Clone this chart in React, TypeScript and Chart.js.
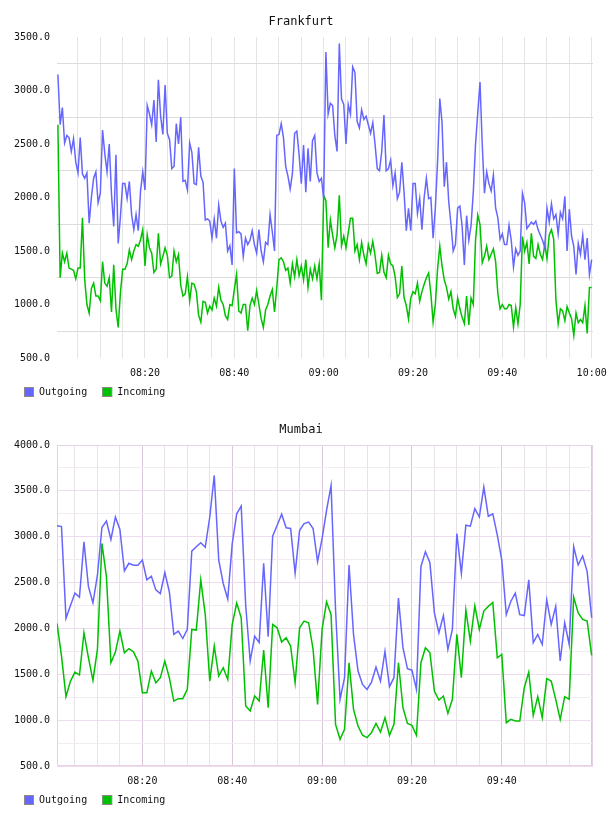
import React, { useEffect, useRef } from "react";
import { Chart, registerables } from "chart.js";

Chart.register(...registerables);

const MONO = '"DejaVu Sans Mono", "Liberation Mono", monospace';
const OUT_COLOR = "rgb(102,102,255)";
const IN_COLOR = "rgb(0,192,0)";
const seriesNames = ["Outgoing", "Incoming"];

// Frankfurt: one sample every 30 s
const frankfurtStart = "08:00:30";
const frankfurtStepSeconds = 30;
const frankfurtOutgoing = [
  3150, 2680, 2840, 2510, 2580, 2560, 2430, 2550, 2330, 2230,
  2560, 2220, 2180, 2230, 1760, 2000, 2180, 2240, 1950, 2040,
  2630, 2410, 2240, 2500, 2030, 1730, 2400, 1570, 1820, 2130,
  2130, 1990, 2150, 1840, 1700, 1840, 1690, 2060, 2240, 2070,
  2860, 2780, 2680, 2910, 2520, 3100, 2760, 2590, 3050, 2600,
  2540, 2270, 2290, 2690, 2500, 2750, 2150, 2160, 2070, 2510,
  2420, 2130, 2120, 2470, 2200, 2140, 1790, 1800, 1780, 1620,
  1800, 1620, 1930, 1780, 1720, 1760, 1500, 1550, 1370, 2270,
  1670, 1680, 1660, 1450, 1620, 1560, 1600, 1690, 1560, 1480,
  1700, 1500, 1400, 1580, 1560, 1840, 1680, 1500, 2580, 2590,
  2690, 2560, 2290, 2200, 2080, 2220, 2600, 2620, 2400, 2130,
  2490, 2050, 2460, 2150, 2530, 2580, 2230, 2150, 2180, 1990,
  3360, 2780, 2880, 2860, 2580, 2430, 3440, 2920, 2870, 2500,
  2870, 2780, 3220, 3170, 2710, 2650, 2820, 2730, 2760, 2680,
  2600, 2700, 2500, 2270, 2250, 2430, 2770, 2250, 2270, 2350,
  2110, 2230, 1990, 2050, 2330, 2050, 1690, 1900, 1690, 2130,
  2130, 1850, 1990, 1700, 2000, 2180, 1990, 2000, 1620, 1900,
  2330, 2925, 2700, 2100, 2330, 1960, 1750, 1500, 1560, 1900,
  1920, 1730, 1370, 1830, 1600, 1740, 2050, 2500, 2790, 3080,
  2500, 2040, 2240, 2130, 2060, 2210, 1900, 1810, 1610, 1660,
  1560, 1560, 1740, 1600, 1350, 1520, 1460, 1500, 2040, 1950,
  1710, 1740, 1770, 1750, 1780, 1700, 1650, 1600, 1530, 1900,
  1770, 1940, 1800, 1840, 1660, 1860, 1800, 2010, 1500, 1890,
  1640, 1540, 1280, 1570, 1470, 1650, 1420, 1620, 1280, 1420,
];
const frankfurtIncoming = [
  2680, 1250, 1480, 1400, 1480, 1340, 1330, 1320, 1240, 1340,
  1340, 1810, 1235, 1000, 920, 1150, 1200, 1080, 1080, 1035,
  1400, 1200, 1170, 1250, 930, 1370, 957, 785, 1110, 1330,
  1330, 1380, 1510, 1420, 1500, 1560, 1545, 1605, 1700, 1360,
  1650, 1530, 1480, 1300, 1330, 1665, 1380, 1450, 1530, 1460,
  1250, 1265, 1500, 1400, 1465, 1180, 1080, 1100, 1260, 1035,
  1200, 1190, 1120, 900, 835, 1030, 1020, 920, 985, 950,
  1060, 985, 1160, 1040, 1000, 895, 860, 1000, 990, 1140,
  1280, 940, 920, 1000, 1000, 755, 990, 1060, 1000, 1130,
  1000, 870, 785, 950, 1000, 1080, 1140, 930, 1160, 1420,
  1435, 1400, 1320, 1340, 1200, 1380, 1260, 1420, 1270, 1360,
  1230, 1420, 1160, 1330, 1240, 1360, 1240, 1380, 1040, 2020,
  1970, 1530, 1790, 1650, 1530, 1650, 2020, 1550, 1640, 1530,
  1670, 1805, 1805, 1500, 1560, 1420, 1580, 1460, 1380, 1560,
  1480, 1590, 1460, 1290, 1300, 1460, 1300, 1250, 1460, 1380,
  1360, 1260, 1065, 1100, 1360, 1065, 990, 865, 1060, 1120,
  1100, 1200, 1030, 1120, 1190, 1250, 1295, 1100, 835, 1000,
  1330, 1545, 1360, 1230, 1160, 1050, 1120, 960, 890, 1060,
  960, 880, 820, 1080, 810, 1060, 1000, 1600, 1835, 1750,
  1390, 1450, 1545, 1420, 1470, 1520, 1400, 1100, 960, 1000,
  960, 960, 1000, 990, 790, 970, 820, 1000, 1635, 1500,
  1580, 1380, 1665, 1450, 1430, 1560, 1470, 1420, 1560, 1430,
  1650, 1700, 1610, 1040, 820, 960, 940, 850, 980, 920,
  870, 710, 920, 830, 860, 830, 990, 730, 1160, 1160,
];

// Mumbai: one sample per minute
const mumbaiStart = "08:01:00";
const mumbaiStepSeconds = 60;
const mumbaiOutgoing = [
  3120, 3110, 2110, 2250, 2385, 2340, 2945, 2455, 2280, 2580,
  3100, 3170, 2970, 3215, 3080, 2627, 2710, 2690, 2690, 2745,
  2530, 2570, 2420, 2380, 2610, 2400, 1935, 1970, 1890, 1990,
  2843, 2890, 2935, 2885, 3215, 3668, 2745, 2490, 2320, 2925,
  3250, 3335, 2250, 1645, 1915, 1845, 2710, 1910, 3006, 3125,
  3245, 3097, 3090, 2600, 3070, 3143, 3160, 3090, 2728, 2980,
  3288, 3559, 2200, 1227, 1463, 2692, 1935, 1535, 1390, 1335,
  1415, 1580, 1425, 1750, 1365, 1463, 2330, 1790, 1560, 1545,
  1335, 2674, 2836, 2717, 2170, 1953, 2140, 1770, 1990, 3035,
  2600, 3125, 3115, 3306, 3215, 3541, 3223, 3250, 3017, 2745,
  2150, 2294, 2385, 2150, 2140, 2529, 1845, 1935, 1825, 2312,
  2044, 2240, 1645, 2062, 1825, 2890, 2692, 2790, 2620, 2116,
];
const mumbaiIncoming = [
  2054, 1700, 1256, 1426, 1524, 1492, 1953, 1680, 1434, 1771,
  2927, 2565, 1626, 1742, 1971, 1735, 1778, 1746, 1644, 1299,
  1299, 1535, 1408, 1463, 1644, 1463, 1208, 1234, 1234, 1336,
  1989, 1982, 2529, 2150, 1426, 1808, 1481, 1572, 1444, 2044,
  2276, 2116, 1154, 1100, 1263, 1208, 1764, 1136, 2044, 2007,
  1851, 1898, 1808, 1408, 2007, 2080, 2062, 1771, 1172, 1989,
  2290, 2150, 954, 791, 900, 1626, 1118, 936, 835, 809,
  864, 965, 871, 1027, 835, 954, 1626, 1136, 965, 943,
  835, 1626, 1790, 1735, 1317, 1219, 1263, 1074, 1227, 1935,
  1463, 2200, 1862, 2247, 1989, 2190, 2240, 2283, 1680, 1717,
  972, 1009, 990, 990, 1354, 1524, 1052, 1256, 1027, 1452,
  1426, 1227, 1009, 1256, 1227, 2341, 2170, 2098, 2080, 1706,
];

// Axis windows and labelled ticks
const frankfurtXRange = ["08:00:18", "10:00:18"];
const mumbaiXRange = ["08:01:00", "10:00:18"];
const frankfurtXLabels = ["08:20", "08:40", "09:00", "09:20", "09:40", "10:00"];
const mumbaiXLabels = ["08:20", "08:40", "09:00", "09:20", "09:40"];
const frankfurtYLabels = [500, 1000, 1500, 2000, 2500, 3000, 3500];
const mumbaiYLabels = [500, 1000, 1500, 2000, 2500, 3000, 3500, 4000];

const toMinutes = (t: string) => {
  const [h, m, s] = t.split(":").map(Number);
  return h * 60 + m + (s || 0) / 60;
};
const fmtClock = (v: number) => {
  const h = Math.floor(v / 60);
  const m = Math.round(v - h * 60);
  return `${String(h).padStart(2, "0")}:${String(m).padStart(2, "0")}`;
};

// Thin frame around the plotting area (used by the pink theme)
const frameBorder = {
  id: "frameBorder",
  beforeDatasetsDraw(chart: any, _args: any, opts: any) {
    if (!opts || !opts.color) return;
    const { ctx, chartArea: a } = chart;
    ctx.save();
    ctx.strokeStyle = opts.color;
    ctx.lineWidth = 1;
    const l = Math.round(a.left) + 0.5;
    const t = Math.round(a.top) + 0.5;
    const r = Math.round(a.right) - 0.5;
    const b = Math.round(a.bottom) - 0.5;
    ctx.strokeRect(l, t, r - l, b - t);
    ctx.restore();
  },
};

// Left-aligned legend row: grey-edged colour swatch followed by the series name
const swatchLegend = {
  id: "swatchLegend",
  afterDraw(chart: any, _args: any, opts: any) {
    if (!opts || !opts.items) return;
    const { ctx } = chart;
    ctx.save();
    ctx.font = `10px ${MONO}`;
    ctx.textBaseline = "middle";
    ctx.textAlign = "left";
    let x = opts.left;
    const cy = chart.height - opts.fromBottom;
    const top = Math.round(cy - 5);
    for (const it of opts.items) {
      ctx.fillStyle = it.color;
      ctx.fillRect(x, top, 10, 10);
      ctx.strokeStyle = "#8a8a8a";
      ctx.lineWidth = 1;
      ctx.strokeRect(x + 0.5, top + 0.5, 9, 9);
      ctx.fillStyle = "#111";
      ctx.fillText(it.text, x + 15, top + 5.5);
      x += 15 + ctx.measureText(it.text).width + 15;
    }
    ctx.restore();
  },
};

type Theme = {
  xMinor: string;
  xMajor: string;
  yMinor: string;
  yMajor: string;
  frame: string | null;
};

const grayTheme: Theme = {
  xMinor: "#e4e4e4",
  xMajor: "#e4e4e4",
  yMinor: "#dcdcdc",
  yMajor: "rgba(0,0,0,0)",
  frame: null,
};
const pinkTheme: Theme = {
  xMinor: "#e8e2e8",
  xMajor: "#dcc6dc",
  yMinor: "#f2ecf2",
  yMajor: "#eedcee",
  frame: "#e6d2e6",
};

type PanelProps = {
  title: string;
  start: string;
  stepSeconds: number;
  outgoing: number[];
  incoming: number[];
  xRange: string[];
  xLabels: string[];
  yLabels: number[];
  theme: Theme;
};

function Panel(props: PanelProps) {
  const ref = useRef<HTMLCanvasElement | null>(null);

  useEffect(() => {
    if (!ref.current) return;
    const { title, start, stepSeconds, outgoing, incoming, xRange, xLabels, yLabels, theme } = props;
    const t0 = toMinutes(start);
    const step = stepSeconds / 60;
    const pts = (arr: number[]) => arr.map((v, i) => ({ x: t0 + i * step, y: v }));
    const xMin = toMinutes(xRange[0]);
    const xMax = toMinutes(xRange[1]);
    const yMin = Math.min(...yLabels);
    const yMax = Math.max(...yLabels);
    const labelSet = new Set(xLabels);
    const colors = [OUT_COLOR, IN_COLOR];

    const chart = new Chart(ref.current, {
      type: "line",
      data: {
        datasets: [
          { label: seriesNames[0], data: pts(outgoing), borderColor: OUT_COLOR, backgroundColor: OUT_COLOR },
          { label: seriesNames[1], data: pts(incoming), borderColor: IN_COLOR, backgroundColor: IN_COLOR },
        ],
      },
      options: {
        responsive: false,
        animation: false,
        devicePixelRatio: 1,
        layout: { padding: { left: 9, right: 15, top: 0, bottom: 28 } },
        elements: {
          point: { radius: 0, hoverRadius: 0 },
          line: { borderWidth: 1.5, tension: 0, fill: false },
        },
        plugins: {
          tooltip: { enabled: false },
          legend: { display: false },
          title: {
            display: true,
            text: title,
            color: "#111",
            font: { family: MONO, size: 12, weight: "normal", lineHeight: 1.2 },
            padding: { top: 15, bottom: 7.6 },
          },
          swatchLegend: {
            left: 24,
            fromBottom: 16,
            items: seriesNames.map((n, i) => ({ text: n, color: colors[i] })),
          },
          frameBorder: { color: theme.frame },
        } as any,
        scales: {
          x: {
            type: "linear",
            min: xMin,
            max: xMax,
            border: { display: false },
            afterBuildTicks: (axis: any) => {
              const ticks = [];
              for (let v = Math.ceil(xMin / 5) * 5; v <= xMax + 1e-6; v += 5) ticks.push({ value: v });
              axis.ticks = ticks;
            },
            afterFit: (s: any) => {
              s.height = 22;
              s.paddingLeft = 0;
              s.paddingRight = 0;
            },
            grid: {
              drawTicks: false,
              color: (c: any) => (c.tick && c.tick.value % 20 === 0 ? theme.xMajor : theme.xMinor),
            },
            ticks: {
              autoSkip: false,
              maxRotation: 0,
              padding: 9,
              color: "#111",
              font: { family: MONO, size: 10 },
              callback: (v: any) => {
                const s = fmtClock(Number(v));
                return labelSet.has(s) ? s : "";
              },
            },
          },
          y: {
            type: "linear",
            min: yMin,
            max: yMax,
            border: { display: false },
            afterFit: (s: any) => {
              s.width = 48;
              s.paddingTop = 0;
              s.paddingBottom = 0;
            },
            grid: {
              drawTicks: false,
              color: (c: any) =>
                c.tick && yLabels.includes(c.tick.value) ? theme.yMajor : theme.yMinor,
            },
            ticks: {
              stepSize: 250,
              autoSkip: false,
              padding: 7,
              color: "#111",
              font: { family: MONO, size: 10 },
              callback: (v: any) => (yLabels.includes(Number(v)) ? Number(v).toFixed(1) : ""),
            },
          },
        },
      } as any,
      plugins: [frameBorder, swatchLegend],
    });
    return () => chart.destroy();
  }, []);

  return <canvas ref={ref} width={608} height={408} style={{ display: "block" }} />;
}

export default function App() {
  return (
    <div style={{ position: "absolute", left: 0, top: 0, width: 608, height: 816, background: "#fff" }}>
      <div style={{ position: "absolute", left: 0, top: 0 }}>
        <Panel
          title="Frankfurt"
          start={frankfurtStart}
          stepSeconds={frankfurtStepSeconds}
          outgoing={frankfurtOutgoing}
          incoming={frankfurtIncoming}
          xRange={frankfurtXRange}
          xLabels={frankfurtXLabels}
          yLabels={frankfurtYLabels}
          theme={grayTheme}
        />
      </div>
      <div style={{ position: "absolute", left: 0, top: 408 }}>
        <Panel
          title="Mumbai"
          start={mumbaiStart}
          stepSeconds={mumbaiStepSeconds}
          outgoing={mumbaiOutgoing}
          incoming={mumbaiIncoming}
          xRange={mumbaiXRange}
          xLabels={mumbaiXLabels}
          yLabels={mumbaiYLabels}
          theme={pinkTheme}
        />
      </div>
    </div>
  );
}
